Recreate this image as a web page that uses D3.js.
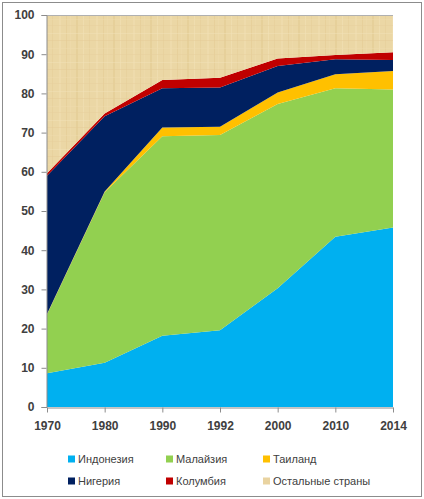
<!DOCTYPE html>
<html><head><meta charset="utf-8">
<script src="https://cdn.jsdelivr.net/npm/d3@7"></script>
<style>body{margin:0;background:#fff}svg{display:block}</style>
</head><body>
<script>
const years = ["1970","1980","1990","1992","2000","2010","2014"];
const seriesNames = ["Индонезия","Малайзия","Таиланд","Нигерия","Колумбия","Остальные страны"];
const indonesia = [8.6, 11.3, 18.2, 19.6, 30.3, 43.4, 45.8];
const malaysia  = [15.0, 43.5, 50.9, 49.8, 47.0, 37.9, 35.2];
const thailand  = [0.1, 0.2, 2.2, 2.1, 2.9, 3.6, 4.7];
const nigeria   = [35.3, 19.2, 10.0, 10.0, 6.8, 3.8, 2.8];
const colombia  = [0.6, 0.7, 2.1, 2.5, 1.9, 1.1, 2.0];
const others    = [40.4, 25.1, 16.6, 16.0, 11.1, 10.2, 9.5];
const yTicks = [0,10,20,30,40,50,60,70,80,90,100];
const colors = ["#00b0f0","#92d050","#ffc000","#002060","#c00000","url(#papyrus)"];
const legendColors = ["#00b0f0","#92d050","#ffc000","#002060","#c00000","#e9d3a0"];

const W = 424, H = 499;
const m = {l:47, r:31, t:15, b:92};
const svg = d3.select("body").append("svg").attr("width",W).attr("height",H);

// papyrus texture pattern
const defs = svg.append("defs");
const pat = defs.append("pattern").attr("id","papyrus").attr("patternUnits","userSpaceOnUse")
  .attr("width",37).attr("height",29);
pat.append("rect").attr("width",37).attr("height",29).attr("fill","#ebd7a5");
[[2,"#e2c990",2],[9,"#f3e3ba",1],[15,"#e5cd97",1],[22,"#f1dfb3",2],[29,"#e3ca92",1],[33,"#efdcad",1]].forEach(([x,c,w])=>
  pat.append("rect").attr("x",x).attr("y",0).attr("width",w).attr("height",29).attr("fill",c).attr("opacity",0.5));
[[4,"#f2e2b8"],[11,"#e4cb94"],[19,"#efdcae"],[25,"#e6cf9b"]].forEach(([y,c])=>
  pat.append("rect").attr("x",0).attr("y",y).attr("width",37).attr("height",1).attr("fill",c).attr("opacity",0.45));

// outer border
svg.append("rect").attr("x",2.5).attr("y",2.5).attr("width",419).attr("height",494)
  .attr("fill","none").attr("stroke","#8c8c8c");

const x = d3.scalePoint().domain(years).range([m.l, W-m.r]).padding(0);
const y = d3.scaleLinear().domain([0,100]).range([H-m.b, m.t]);

const table = years.map((yr,i)=>({year:yr, s0:indonesia[i], s1:malaysia[i], s2:thailand[i], s3:nigeria[i], s4:colombia[i], s5:others[i]}));
const keys = ["s0","s1","s2","s3","s4","s5"];
const stacked = d3.stack().keys(keys)(table);
const area = d3.area().x(d=>x(d.data.year)).y0(d=>y(d[0])).y1(d=>y(d[1]));

svg.append("g").selectAll("path").data(stacked).join("path")
  .attr("d",area).attr("fill",(d,i)=>colors[i]);

// plot top border line
svg.append("line").attr("x1",m.l).attr("x2",W-m.r).attr("y1",y(100)+0.5).attr("y2",y(100)+0.5)
  .attr("stroke","#b0b0b0");

// axes
const yAxis = d3.axisLeft(y).tickValues(yTicks).tickSize(5).tickPadding(7).tickFormat(d3.format("d"));
const gy = svg.append("g").attr("transform",`translate(${m.l-0.5},0)`).call(yAxis);
const xAxis = d3.axisBottom(x).tickSize(5).tickPadding(9).tickSizeOuter(0);
const gx = svg.append("g").attr("transform",`translate(0,${H-m.b+0.5})`).call(xAxis);
[gy,gx].forEach(g=>{
  g.select(".domain").attr("stroke","#8c8c8c");
  g.selectAll(".tick line").attr("stroke","#8c8c8c");
  g.selectAll("text").attr("fill","#404040").attr("font-family","Liberation Sans, Arial, sans-serif")
    .attr("font-size",12).attr("font-weight","bold");
});

// legend
const lx = [68, 166, 263], ly = [459, 481];
const lg = svg.append("g");
seriesNames.forEach((n,i)=>{
  const cx = lx[i%3], cy = ly[Math.floor(i/3)];
  lg.append("rect").attr("x",cx).attr("y",cy-3.5).attr("width",7).attr("height",7).attr("fill",legendColors[i]);
  lg.append("text").attr("x",cx+10).attr("y",cy).attr("dy","0.35em")
    .attr("font-family","Liberation Sans, Arial, sans-serif").attr("font-size",11)
    .attr("fill","#404040").text(n);
});
</script>
</body></html>
